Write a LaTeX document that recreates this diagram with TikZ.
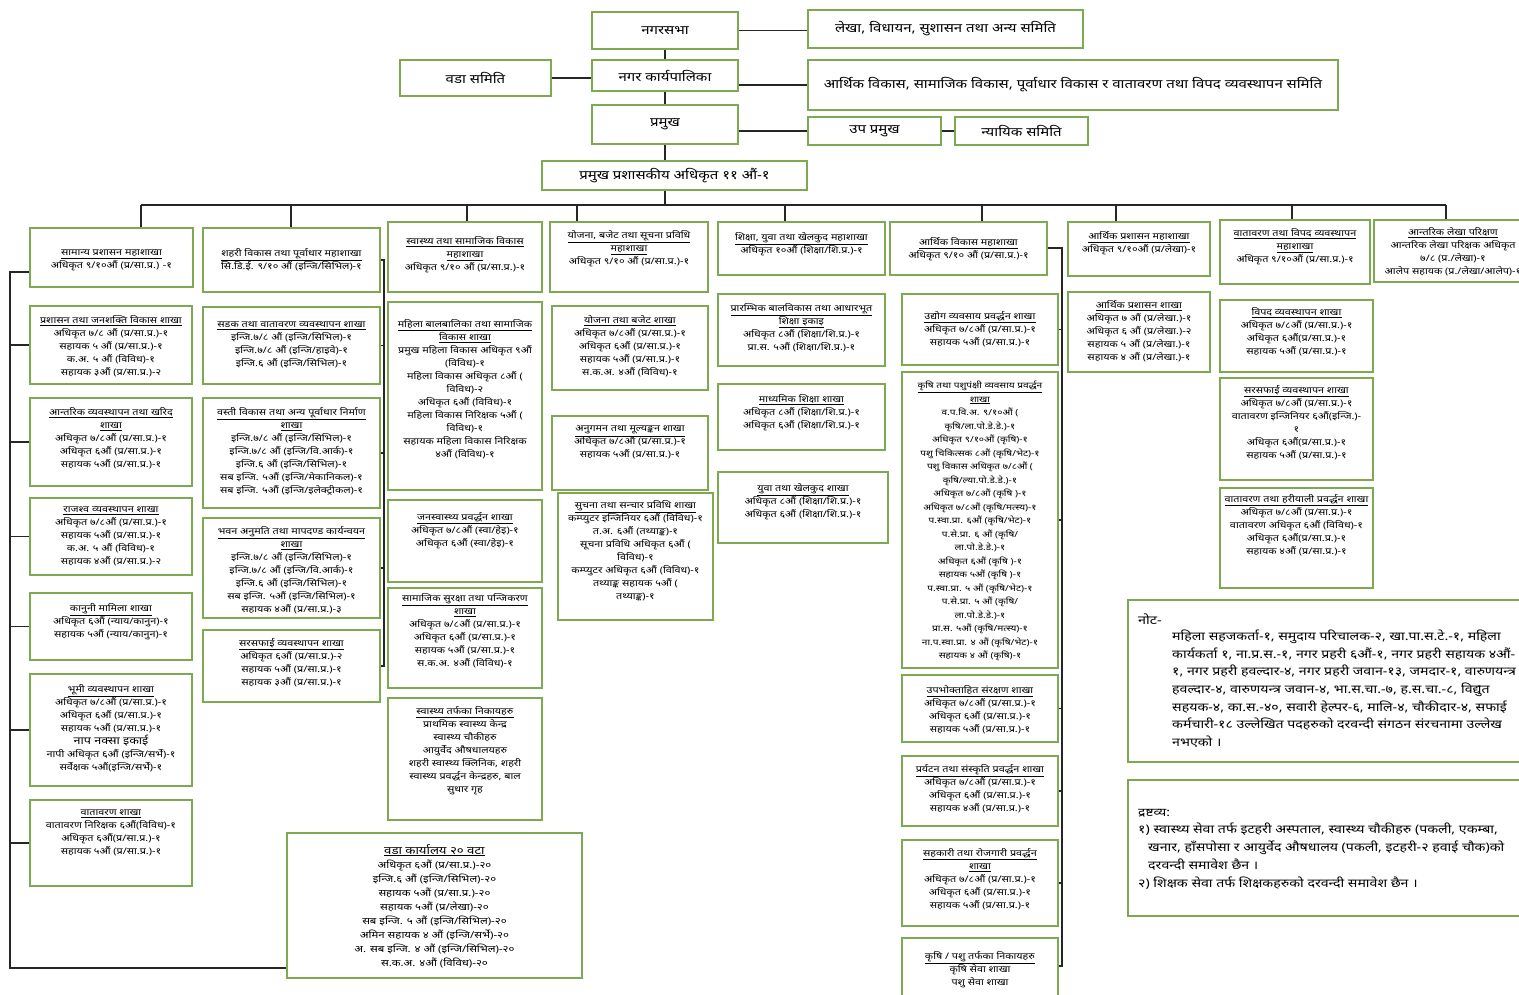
\documentclass[tikz,border=0pt]{standalone}
\usepackage{fontspec}
\setmainfont{Noto Sans}[Script=Devanagari,FakeStretch=1.2]
\definecolor{boxgreen}{RGB}{125,170,80}
\newcommand\ttl[1]{\underline{\textbf{#1}}}
\newcommand\bodyfont{\fontsize{9}{13}\selectfont}
\tikzset{
  obox/.style={draw=boxgreen,line width=1.4pt,inner sep=0pt,fill=white},
  otext/.style={align=center,inner sep=0pt,font=\bodyfont},
  ttext/.style={font=\fontsize{12.5}{14}\selectfont\bfseries},
  conn/.style={line width=1.2pt,draw=black!85}
}
\newcommand\obx[8][]{%
  \node[obox,minimum width={(#5-#3)*1pt},minimum height={(#6-#4)*1pt}] (#2) at ({(#3+#5)/2},{(#4+#6)/2}) {};
  \node[otext,anchor=north,#1] (#2t) at ({(#3+#5)/2},{#7-4}) {#8};}
\newcommand\tbx[6]{%
  \node[obox,ttext,minimum width={(#4-#2)*1pt},minimum height={(#5-#3)*1pt}] (#1) at ({(#2+#4)/2},{(#3+#5)/2}) {#6};}
\begin{document}
\begin{tikzpicture}[x=1pt,y=-1pt]
\clip (0,0) rectangle (1519,995);
\fill[white] (0,0) rectangle (1519,995);
% top
\tbx{nsabha}{592}{12}{738}{49}{नगरसभा}
\tbx{lekha}{808}{10}{1083}{48}{लेखा, विधायन, सुशासन तथा अन्य समिति}
\tbx{wada}{400}{60}{551}{96}{वडा समिति}
\tbx{nkarya}{592}{60}{738}{91}{नगर कार्यपालिका}
\tbx{arthik}{808}{60}{1338}{110}{आर्थिक विकास, सामाजिक विकास, पूर्वाधार विकास र वातावरण तथा विपद व्यवस्थापन समिति}
\tbx{pramukh}{592}{105}{738}{144}{प्रमुख}
\tbx{upa}{808}{117}{941}{145}{उप प्रमुख}
\tbx{nyayik}{955}{117}{1088}{145}{न्यायिक समिति}
\tbx{cao}{542}{161}{807}{190}{प्रमुख प्रशासकीय अधिकृत ११ औं-१}
% column 1
\obx{c1a}{30}{228}{193}{287}{254}{\ttl{सामान्य प्रशासन महाशाखा}\\ अधिकृत ९/१०औं (प्र/सा.प्र.) -१}
\obx{c1b}{30}{306}{192}{384}{319}{\ttl{प्रशासन तथा जनशक्ति विकास शाखा}\\ अधिकृत ७/८ औं (प्र/सा.प्र.)-१\\ सहायक ५ औं (प्र/सा.प्र.)-१\\ क.अ. ५ औं (विविध)-१\\ सहायक ३औं (प्र/सा.प्र.)-२}
\obx{c1c}{30}{398}{192}{486}{411}{\ttl{आन्तरिक व्यवस्थापन तथा खरिद}\\ \ttl{शाखा}\\ अधिकृत ७/८औं (प्र/सा.प्र.)-१\\ अधिकृत ६औं (प्र/सा.प्र.)-१\\ सहायक ५औं (प्र/सा.प्र.)-१}
\obx{c1d}{30}{498}{192}{575}{511}{\ttl{राजश्व व्यवस्थापन शाखा}\\ अधिकृत ७/८औं (प्र/सा.प्र.)-१\\ सहायक ५औं (प्र/सा.प्र.)-१\\ क.अ. ५ औं (विविध)-१\\ सहायक ४औं (प्र/सा.प्र.)-२}
\obx{c1e}{30}{593}{192}{660}{607}{\ttl{कानुनी मामिला शाखा}\\ अधिकृत ६औं (न्याय/कानुन)-१\\ सहायक ५औं (न्याय/कानुन)-१}
\obx{c1f}{30}{674}{192}{786}{688}{\ttl{भूमी व्यवस्थापन शाखा}\\ अधिकृत ७/८औं (प्र/सा.प्र.)-१\\ अधिकृत ६औं (प्र/सा.प्र.)-१\\ सहायक ५औं (प्र/सा.प्र.)-१\\ {\fontsize{10.5}{13}\selectfont\bfseries नाप नक्सा इकाई}\\ नापी अधिकृत ६औं (इन्जि/सर्भे)-१\\ सर्वेक्षक ५औं(इन्जि/सर्भे)-१}
\obx{c1g}{30}{800}{192}{886}{814}{\ttl{वातावरण शाखा}\\ वातावरण निरिक्षक ६औं(विविध)-१\\ अधिकृत ६औं(प्र/सा.प्र.)-१\\ सहायक ५औं (प्र/सा.प्र.)-१}
% column 2
\obx{c2a}{203}{228}{380}{292}{252}{\ttl{शहरी विकास तथा पूर्वाधार महाशाखा}\\ सि.डि.ई. ९/१० औं (इन्जि/सिभिल)-१}
\obx{c2b}{203}{307}{380}{384}{326}{\ttl{सडक तथा वातावरण व्यवस्थापन शाखा}\\ इन्जि.७/८ औं (इन्जि/सिभिल)-१\\ इन्जि.७/८ औं (इन्जि/हाइवे)-१\\ इन्जि.६ औं (इन्जि/सिभिल)-१}
\obx{c2c}{203}{398}{380}{508}{411}{\ttl{वस्ती विकास तथा अन्य पूर्वाधार निर्माण}\\ \ttl{शाखा}\\ इन्जि.७/८ औं (इन्जि/सिभिल)-१\\ इन्जि.७/८ औं (इन्जि/वि.आर्क)-१\\ इन्जि.६ औं (इन्जि/सिभिल)-१\\ सब इन्जि. ५औं (इन्जि/मेकानिकल)-१\\ सब इन्जि. ५औं (इन्जि/इलेक्ट्रीकल)-१}
\obx{c2d}{203}{518}{380}{618}{530}{\ttl{भवन अनुमति तथा मापदण्ड कार्यन्वयन}\\ \ttl{शाखा}\\ इन्जि.७/८ औं (इन्जि/सिभिल)-१\\ इन्जि.७/८ औं (इन्जि/वि.आर्क)-१\\ इन्जि.६ औं (इन्जि/सिभिल)-१\\ सब इन्जि. ५औं (इन्जि/सिभिल)-१\\ सहायक ४औं (प्र/सा.प्र.)-३}
\obx{c2e}{203}{630}{380}{702}{642}{\ttl{सरसफाई व्यवस्थापन शाखा}\\ अधिकृत ६औं (प्र/सा.प्र.)-२\\ सहायक ५औं (प्र/सा.प्र.)-१\\ सहायक ३औं (प्र/सा.प्र.)-१}
% column 3
\obx{c3a}{388}{222}{542}{292}{240}{\ttl{स्वास्थ्य तथा सामाजिक विकास}\\ \ttl{महाशाखा}\\ अधिकृत ९/१० औं (प्र/सा.प्र.)-१}
\obx{c3b}{388}{302}{542}{490}{323}{\ttl{महिला बालबालिका तथा सामाजिक}\\ \ttl{विकास शाखा}\\ प्रमुख महिला विकास अधिकृत ९औं\\ (विविध)-१\\ महिला विकास अधिकृत ८औं (\\ विविध)-२\\ अधिकृत ६औं (विविध)-१\\ महिला विकास निरिक्षक ५औं (\\ विविध)-१\\ सहायक महिला विकास निरिक्षक\\ ४औं (विविध)-१}
\obx{c3c}{388}{500}{542}{582}{516}{\ttl{जनस्वास्थ्य प्रवर्द्धन शाखा}\\ अधिकृत ७/८औं (स्वा/हेइ)-१\\ अधिकृत ६औं (स्वा/हेइ)-१}
\obx{c3d}{388}{588}{542}{688}{597}{\ttl{सामाजिक सुरक्षा तथा पन्जिकरण}\\ \ttl{शाखा}\\ अधिकृत ७/८औं (प्र/सा.प्र.)-१\\ अधिकृत ६औं (प्र/सा.प्र.)-१\\ सहायक ५औं (प्र/सा.प्र.)-१\\ स.क.अ. ४औं (विविध)-१}
\obx{c3e}{388}{698}{542}{820}{710}{\ttl{स्वास्थ्य तर्फका निकायहरु}\\ प्राथमिक स्वास्थ्य केन्द्र\\ स्वास्थ्य चौकीहरु\\ आयुर्वेद औषधालयहरु\\ शहरी स्वास्थ्य क्लिनिक, शहरी\\ स्वास्थ्य प्रवर्द्धन केन्द्रहरु, बाल\\ सुधार गृह}
% column 4
\obx{c4a}{550}{222}{708}{292}{234}{\ttl{योजना, बजेट तथा सूचना प्रविधि}\\ \ttl{महाशाखा}\\ अधिकृत ९/१० औं (प्र/सा.प्र.)-१}
\obx{c4b}{552}{306}{708}{390}{319}{\ttl{योजना तथा बजेट शाखा}\\ अधिकृत ७/८औं (प्र/सा.प्र.)-१\\ अधिकृत ६औं (प्र/सा.प्र.)-१\\ सहायक ५औं (प्र/सा.प्र.)-१\\ स.क.अ. ४औं (विविध)-१}
\obx{c4c}{552}{416}{708}{490}{430}{\ttl{अनुगमन तथा मूल्यङ्कन शाखा}\\ अधिकृत ७/८औं (प्र/सा.प्र.)-१\\ सहायक ५औं (प्र/सा.प्र.)-१}
\obx{c4d}{558}{493}{713}{620}{504}{\ttl{सुचना तथा सन्चार प्रविधि शाखा}\\ कम्प्युटर इन्जिनियर ६औं (विविध)-१\\ त.अ. ६औं (तथ्याङ्क)-१\\ सूचना प्रविधि अधिकृत ६औं (\\ विविध)-१\\ कम्प्युटर अधिकृत ६औं (विविध)-१\\ तथ्याङ्क सहायक ५औं (\\ तथ्याङ्क)-१}
% column 5
\obx{c5a}{718}{222}{885}{275}{236}{\ttl{शिक्षा, युवा तथा खेलकुद महाशाखा}\\ अधिकृत १०औं (शिक्षा/शि.प्र.)-१}
\obx{c5b}{718}{294}{885}{366}{307}{\ttl{प्रारम्भिक बालविकास तथा आधारभूत}\\ \ttl{शिक्षा इकाइ}\\ अधिकृत ८औं (शिक्षा/शि.प्र.)-१\\ प्रा.स. ५औं (शिक्षा/शि.प्र.)-१}
\obx{c5c}{718}{384}{885}{450}{398}{\ttl{माध्यमिक शिक्षा शाखा}\\ अधिकृत ८औं (शिक्षा/शि.प्र.)-१\\ अधिकृत ६औं (शिक्षा/शि.प्र.)-१}
\obx{c5d}{718}{472}{888}{543}{487}{\ttl{युवा तथा खेलकुद शाखा}\\ अधिकृत ८औं (शिक्षा/शि.प्र.)-१\\ अधिकृत ६औं (शिक्षा/शि.प्र.)-१}
% column 6
\obx{c6a}{890}{222}{1047}{275}{241}{\ttl{आर्थिक विकास महाशाखा}\\ अधिकृत ९/१० औं (प्र/सा.प्र.)-१}
\obx{c6b}{902}{294}{1058}{365}{315}{\ttl{उद्योग व्यवसाय प्रवर्द्धन शाखा}\\ अधिकृत ७/८औं (प्र/सा.प्र.)-१\\ सहायक ५औं (प्र/सा.प्र.)-१}
\obx[font={\fontsize{8.4}{13.5}\selectfont}]{c6c}{902}{372}{1058}{668}{385}{\ttl{कृषि तथा पशुपंक्षी व्यवसाय प्रवर्द्धन}\\ \ttl{शाखा}\\ व.प.वि.अ. ९/१०औं (\\ कृषि/ला.पो.डे.डे.)-१\\ अधिकृत ९/१०औं (कृषि)-१\\ पशु चिकित्सक ८औं (कृषि/भेट)-१\\ पशु विकास अधिकृत ७/८औं (\\ कृषि/ल्या.पो.डे.डे.)-१\\ अधिकृत ७/८औं (कृषि )-१\\ अधिकृत ७/८औं (कृषि/मत्स्य)-१\\ प.स्वा.प्रा. ६औं (कृषि/भेट)-१\\ प.से.प्रा. ६ औं (कृषि/\\ ला.पो.डे.डे.)-१\\ अधिकृत ६औं (कृषि )-१\\ सहायक ५औं (कृषि )-१\\ प.स्वा.प्रा. ५ औं (कृषि/भेट)-१\\ प.से.प्रा. ५ औं (कृषि/\\ ला.पो.डे.डे.)-१\\ प्रा.स. ५औं (कृषि/मत्स्य)-१\\ ना.प.स्वा.प्रा. ४ औं (कृषि/भेट)-१\\ सहायक ४ औं (कृषि)-१}
\obx{c6d}{902}{675}{1058}{742}{689}{\ttl{उपभोक्ताहित संरक्षण शाखा}\\ अधिकृत ७/८औं (प्र/सा.प्र.)-१\\ अधिकृत ६औं (प्र/सा.प्र.)-१\\ सहायक ५औं (प्र/सा.प्र.)-१}
\obx{c6e}{902}{756}{1058}{826}{768}{\ttl{प्रर्यटन तथा संस्कृति प्रवर्द्धन शाखा}\\ अधिकृत ७/८औं (प्र/सा.प्र.)-१\\ अधिकृत ६औं (प्र/सा.प्र.)-१\\ सहायक ४औं (प्र/सा.प्र.)-१}
\obx{c6f}{902}{840}{1058}{926}{852}{\ttl{सहकारी तथा रोजगारी प्रवर्द्धन}\\ \ttl{शाखा}\\ अधिकृत ७/८औं (प्र/सा.प्र.)-१\\ अधिकृत ६औं (प्र/सा.प्र.)-१\\ सहायक ५औं (प्र/सा.प्र.)-१}
\obx{c6g}{902}{938}{1058}{1000}{955}{\ttl{कृषि / पशु तर्फका निकायहरु}\\ कृषि सेवा शाखा\\ पशु सेवा शाखा}
% column 7
\obx{c7a}{1068}{222}{1210}{276}{235}{\ttl{आर्थिक प्रशासन महाशाखा}\\ अधिकृत ९/१०औं (प्र/लेखा)-१}
\obx{c7b}{1068}{292}{1210}{372}{304}{\ttl{आर्थिक प्रशासन शाखा}\\ अधिकृत ७ औं (प्र/लेखा.)-१\\ अधिकृत ६ औं (प्र/लेखा.)-२\\ सहायक ५ औं (प्र/लेखा.)-१\\ सहायक ४ औं (प्र/लेखा.)-१}
% column 8
\obx{c8a}{1220}{220}{1370}{284}{232}{\ttl{वातावरण तथा विपद व्यवस्थापन}\\ \ttl{महाशाखा}\\ अधिकृत ९/१०औं (प्र/सा.प्र.)-१}
\obx{c8b}{1220}{300}{1373}{372}{311}{\ttl{विपद व्यवस्थापन शाखा}\\ अधिकृत ७/८औं (प्र/सा.प्र.)-१\\ अधिकृत ६औं(प्र/सा.प्र.)-१\\ सहायक ५औं (प्र/सा.प्र.)-१}
\obx{c8c}{1220}{378}{1373}{480}{389}{\ttl{सरसफाई व्यवस्थापन शाखा}\\ अधिकृत ७/८औं (प्र/सा.प्र.)-१\\ वातावरण इन्जिनियर ६औं(इन्जि.)-\\ १\\ अधिकृत ६औं(प्र/सा.प्र.)-१\\ सहायक ५औं (प्र/सा.प्र.)-१}
\obx{c8d}{1220}{488}{1373}{588}{498}{\ttl{वातावरण तथा हरीयाली प्रवर्द्धन शाखा}\\ अधिकृत ७/८औं (प्र/सा.प्र.)-१\\ वातावरण अधिकृत ६औं (विविध)-१\\ अधिकृत ६औं(प्र/सा.प्र.)-१\\ सहायक ४औं (प्र/सा.प्र.)-१}
% column 9
\obx{c9a}{1374}{220}{1532}{282}{231}{\ttl{आन्तरिक लेखा परिक्षण}\\ आन्तरिक लेखा परिक्षक अधिकृत\\ ७/८ (प्र./लेखा)-१\\ आलेप सहायक (प्र./लेखा/आलेप)-१}
% ward office
\obx[font={\fontsize{9.5}{14}\selectfont}]{ward}{287}{833}{582}{978}{848}{{\fontsize{11}{14}\selectfont\ttl{वडा कार्यालय २० वटा}}\\ अधिकृत ६औं (प्र/सा.प्र.)-२०\\ इन्जि.६ औं (इन्जि/सिभिल)-२०\\ सहायक ५औं (प्र/सा.प्र.)-२०\\ सहायक ५औं (प्र/लेखा)-२०\\ सब इन्जि. ५ औं (इन्जि/सिभिल)-२०\\ अमिन सहायक ४ औं (इन्जि/सर्भे)-२०\\ अ. सब इन्जि. ४ औं (इन्जि/सिभिल)-२०\\ स.क.अ. ४औं (विविध)-२०}
% notes
\node[obox,minimum width=407pt,minimum height=162pt] (note) at (1331.5,681) {};
\node[anchor=base west,inner sep=0pt,font=\fontsize{12}{17.6}\selectfont\bfseries] (notet) at (1138,624) {नोट-};
\node[anchor=north west,inner sep=0pt,align=left,font=\fontsize{11.8}{17.6}\selectfont] (notebody) at (1172,630) {महिला सहजकर्ता-१, समुदाय परिचालक-२, खा.पा.स.टे.-१, महिला\\ कार्यकर्ता १, ना.प्र.स.-१, नगर प्रहरी ६औं-१, नगर प्रहरी सहायक ४औं-\\ १, नगर प्रहरी हवल्दार-४, नगर प्रहरी जवान-१३, जमदार-१, वारुणयन्त्र\\ हवल्दार-४, वारुणयन्त्र जवान-४, भा.स.चा.-७, ह.स.चा.-८, विद्युत\\ सहयक-४, का.स.-४०, सवारी हेल्पर-६, मालि-४, चौकीदार-४, सफाई\\ कर्मचारी-१८ उल्लेखित पदहरुको दरवन्दी संगठन संरचनामा उल्लेख\\ नभएको ।};
\node[obox,minimum width=407pt,minimum height=136pt] (drs) at (1331.5,848) {};
\node[anchor=base west,inner sep=0pt,font=\fontsize{11.5}{17.6}\selectfont\bfseries] (drst) at (1138,816) {द्रष्टव्य:};
\node[anchor=north west,inner sep=0pt,align=left,font=\fontsize{11.8}{18}\selectfont] (drsbody) at (1138,823) {१) स्वास्थ्य सेवा तर्फ इटहरी अस्पताल, स्वास्थ्य चौकीहरु (पकली, एकम्बा,\\ \hspace*{10pt}खनार, हाँसपोसा र आयुर्वेद औषधालय (पकली, इटहरी-२ हवाई चौक)को\\ \hspace*{10pt}दरवन्दी समावेश छैन ।\\ २) शिक्षक सेवा तर्फ शिक्षकहरुको दरवन्दी समावेश छैन ।};
% connectors top
\coordinate (sp) at (665,205);
\draw[conn] (nsabha.south) -- (nkarya.north);
\draw[conn] (nkarya.south) -- (pramukh.north);
\draw[conn] (pramukh.south) -- (pramukh.south |- cao.north);
\draw[conn] (cao.south -| sp) -- (sp);
\draw[conn] (nsabha.east) -- (nsabha.east -| lekha.west);
\draw[conn] (wada.east) -- (wada.east -| nkarya.west);
\draw[conn] (arthik.west -| nkarya.east) -- (arthik.west);
\draw[conn] (pramukh.east |- upa.west) -- (upa.west);
\draw[conn] (upa.east) -- (nyayik.west);
% bus
\coordinate (bl) at (141,205);
\coordinate (br) at (1446,205);
\draw[conn] (bl) -- (br);
\foreach \x/\n in {141/c1a,291/c2a,467/c3a,577/c4a,785/c5a,982/c6a,1116/c7a,1292/c8a,1446/c9a}{
  \coordinate (t\n) at (\x,205);
  \draw[conn] (t\n) -- (t\n |- \n.north);
}
% column 1 spine
\coordinate (s1a) at (10,272);
\coordinate (s1b) at (10,968);
\draw[conn] (s1a -| c1a.west) -- (s1a) -- (s1b) -- (s1b -| ward.west);
\foreach \n in {c1b,c1c,c1d,c1e,c1f,c1g}{
  \draw[conn] (s1a |- \n.west) -- (\n.west);
}
% column 2 spine
\coordinate (s2a) at (384,260);
\coordinate (s2b) at (384,666);
\draw[conn] (c2a.east) -- (s2a) -- (s2b) -- (c2e.east);
\foreach \n in {c2b,c2c,c2d}{
  \draw[conn] (s2a |- \n.east) -- (\n.east);
}
% column 6 spine
\coordinate (s6a) at (1062,248);
\coordinate (s6b) at (1062,966);
\draw[conn] (c6a.east |- s6a) -- (s6a) -- (s6b) -- (s6b -| c6g.east);
\foreach \n in {c6b,c6c,c6d,c6e,c6f}{
  \draw[conn] (s6a |- \n.east) -- (\n.east);
}
\end{tikzpicture}
\end{document}
